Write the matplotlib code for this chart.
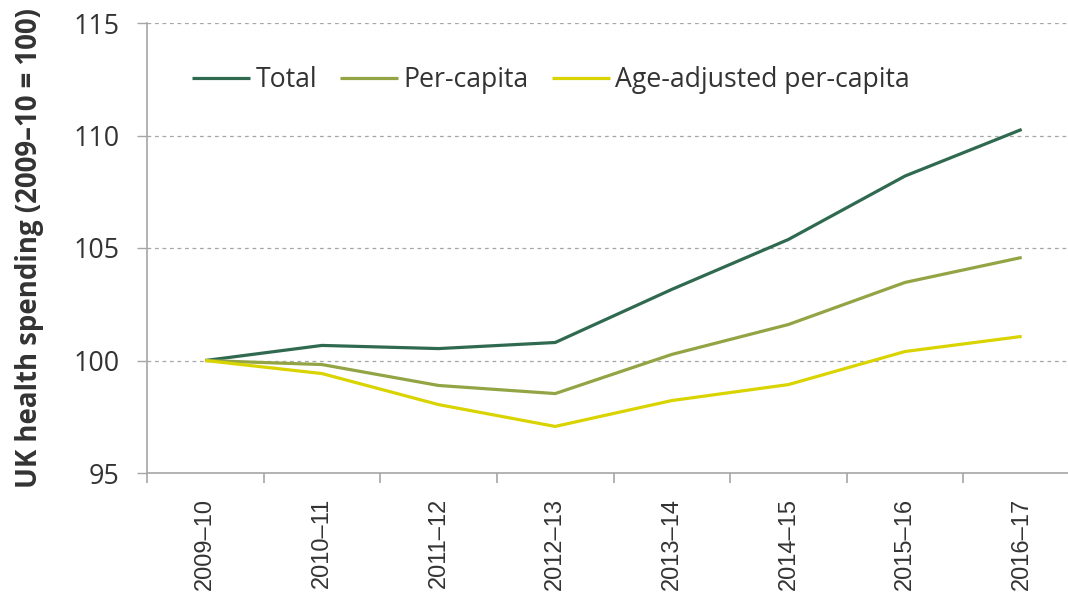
import matplotlib.pyplot as plt
import numpy as np

years = ['2009–10', '2010–11', '2011–12', '2012–13',
         '2013–14', '2014–15', '2015–16', '2016–17']
total = [100.0, 100.67, 100.53, 100.8, 103.16, 105.38, 108.2, 110.27]
per_capita = [100.0, 99.82, 98.89, 98.53, 100.27, 101.6, 103.47, 104.58]
age_adjusted = [100.0, 99.42, 98.04, 97.07, 98.22, 98.93, 100.4, 101.07]

series = [('Total', total, '#2f6a50'),
          ('Per-capita', per_capita, '#92a444'),
          ('Age-adjusted per-capita', age_adjusted, '#d9d400')]

grey = '#a6a6a6'
txt = '#333333'

fig = plt.figure(figsize=(10.68, 5.97), dpi=100)
ax = fig.add_axes([147 / 1068, 1 - 473 / 597, 933 / 1068, 450 / 597])

x = np.arange(len(years))
for name, vals, col in series:
    ax.plot(x, vals, color=col, lw=2.3, label=name, solid_capstyle='butt')

ax.set_xlim(-0.5, len(years) - 0.5)
ax.set_ylim(95, 115)
ax.set_yticks([95, 100, 105, 110, 115])
ax.set_yticklabels(['95', '100', '105', '110', '115'],
                   fontsize=19.4, family='Open Sans', color=txt)
for yv in [100, 105, 110, 115]:
    ax.axhline(yv, color=grey, lw=0.9, ls=(0, (3, 3)), zorder=0)

ax.set_xticks(x)
ax.set_xticklabels(years, rotation=90, fontsize=17,
                   family='Liberation Sans', color=txt)
ax.set_xticks(np.arange(len(years) + 1) - 0.5, minor=True)
ax.tick_params(axis='x', which='major', length=0, pad=18)
ax.tick_params(axis='x', which='minor', length=7, color=grey, width=1.2)
ax.tick_params(axis='y', length=7, color=grey, width=1, pad=13)

for s in ['top', 'right']:
    ax.spines[s].set_visible(False)
for s in ['left', 'bottom']:
    ax.spines[s].set_color(grey)
    ax.spines[s].set_linewidth(1.2)

ax.set_ylabel('UK health spending (2009–10 = 100)', fontsize=19.9,
              fontweight='bold', family='Open Sans', color=txt,
              labelpad=21)

ax.legend(loc='upper left', bbox_to_anchor=(0.037, 0.928), ncol=3, frameon=False,
          prop={'family': 'Open Sans', 'size': 19.2}, handlelength=2.15,
          handletextpad=0.22, columnspacing=0.88, borderaxespad=0,
          labelcolor=txt)

fig.savefig('out.png', dpi=100)
